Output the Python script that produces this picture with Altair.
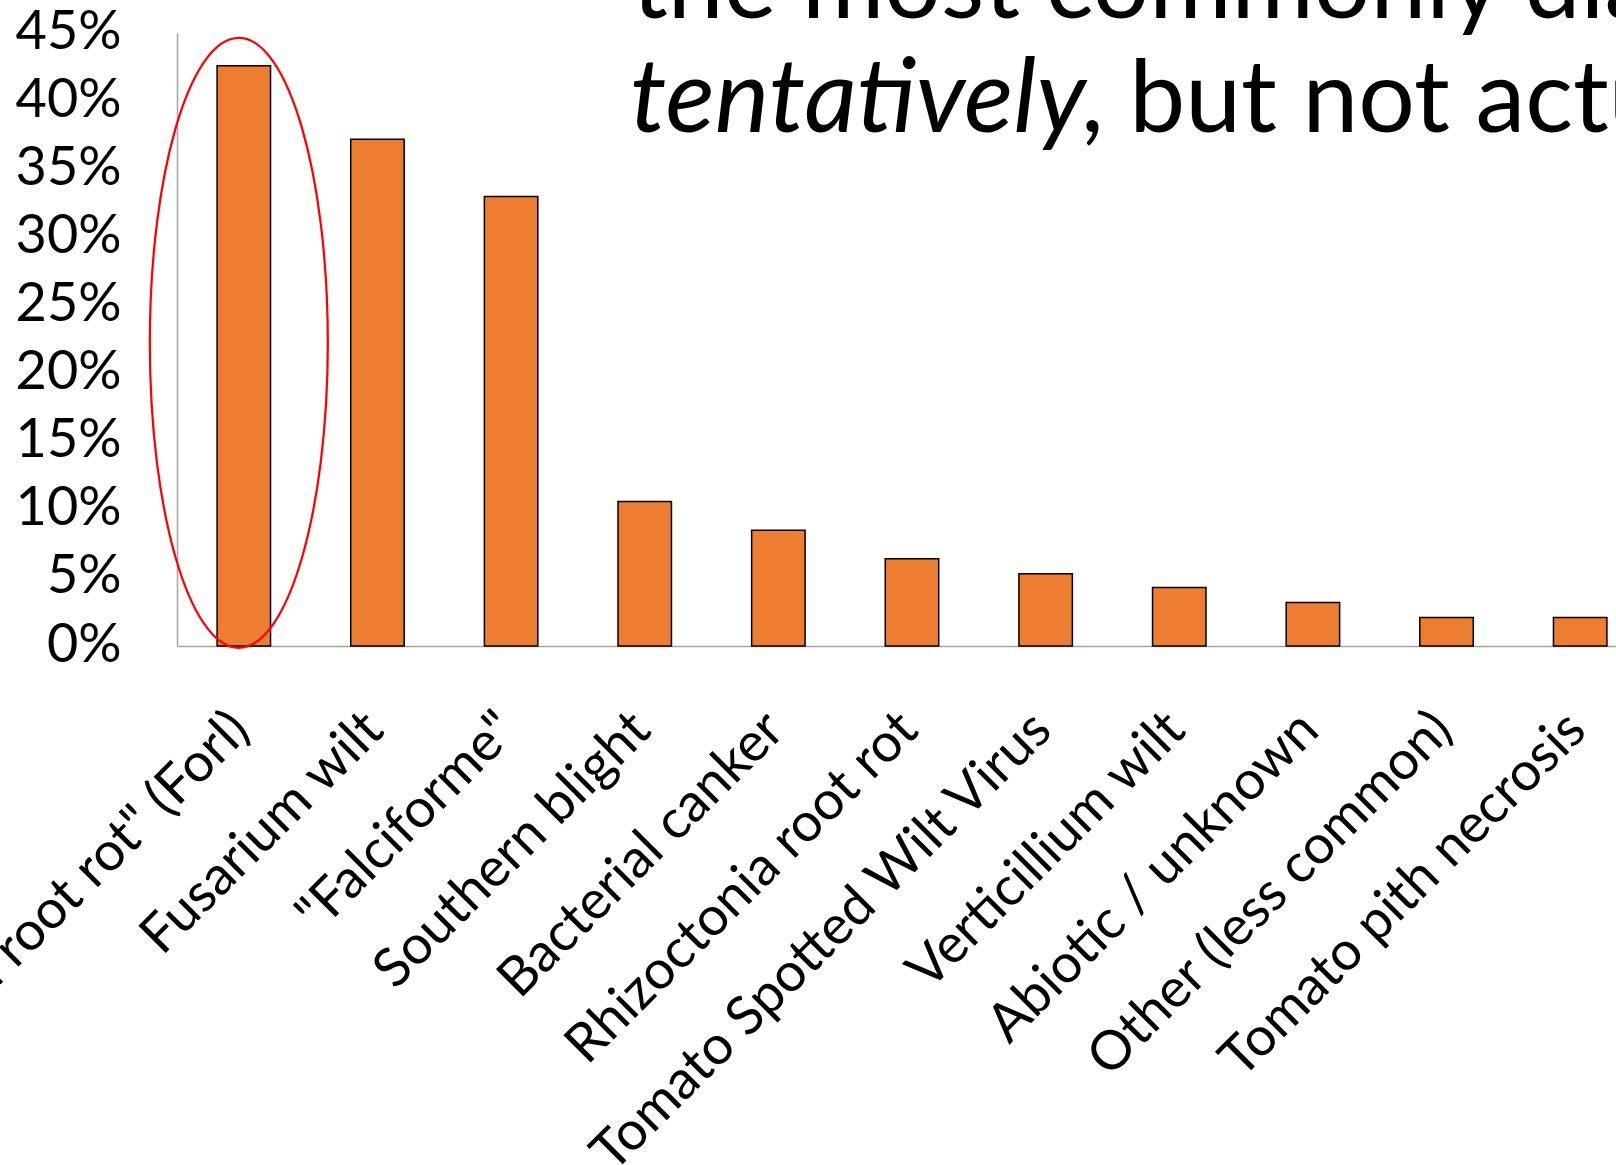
import altair as alt
import pandas as pd

# Share of cases per diagnosis (percent)
categories = [
    '"Fusarium crown and root rot" (Forl)',
    "Fusarium wilt",
    '"Falciforme"',
    "Southern blight",
    "Bacterial canker",
    "Rhizoctonia root rot",
    "Tomato Spotted Wilt Virus",
    "Verticillium wilt",
    "Abiotic / unknown",
    "Other (less common)",
    "Tomato pith necrosis",
]
shares = [42.6, 37.2, 33.0, 10.6, 8.5, 6.4, 5.3, 4.3, 3.2, 2.1, 2.1]
y_ticks = [0, 5, 10, 15, 20, 25, 30, 35, 40, 45]

title_line1 = "the most commonly diagnosed"
title_em = "tentatively"
title_rest = ", but not actually"

df = pd.DataFrame({"category": categories, "share": shares})

FONT = "Lato"
ORANGE = "#ED7D31"
AXIS_GREY = "#A6A6A6"

x_enc = alt.X(
    "category:N",
    sort=categories,
    title=None,
    scale=alt.Scale(range=[0, 1470], paddingInner=0.6, paddingOuter=0.3),
    axis=alt.Axis(
        labelAngle=-45,
        labelAlign="right",
        labelBaseline="top",
        labelPadding=56,
        labelOffset=-22,
        labelLimit=0,
        labelOverlap=False,
        labelFlush=False,
        labelFont=FONT,
        labelFontSize=54,
        labelColor="black",
        ticks=False,
        grid=False,
        domainColor=AXIS_GREY,
        domainWidth=1.5,
    ),
)

y_scale = alt.Scale(domain=[0, 45], nice=False, zero=True)
y_axis = alt.Axis(
    values=y_ticks,
    labelExpr="datum.value + '%'",
    labelPadding=56,
    labelFont=FONT,
    labelFontSize=54,
    labelColor="black",
    labelOffset=-1,
    ticks=False,
    grid=False,
    domainColor=AXIS_GREY,
    domainWidth=1.5,
)

bars = alt.Chart(df).mark_bar(
    fill=ORANGE, stroke="black", strokeWidth=1.5
).encode(
    x=x_enc,
    y=alt.Y("share:Q", scale=y_scale, axis=y_axis, title=None),
)

# Red ellipse highlighting the leading diagnosis (unit path, scaled by size)
k = 0.5523
a = 0.2918
ellipse_path = (
    f"M 0,-1 C {k*a:.4f},-1 {a},{-k} {a},0 "
    f"C {a},{k} {k*a:.4f},1 0,1 "
    f"C {-k*a:.4f},1 {-a},{k} {-a},0 "
    f"C {-a},{-k} {-k*a:.4f},-1 0,-1 Z"
)
ellipse = alt.Chart(df).transform_filter(
    alt.datum.category == categories[0]
).transform_calculate(
    mid="datum.share / 2"
).mark_point(
    shape=ellipse_path,
    size=610 * 610,
    filled=False,
    stroke="#FF0000",
    strokeWidth=2.25,
    opacity=1,
    xOffset=-5,
    yOffset=-13,
).encode(
    x=alt.X("category:N", sort=categories),
    y=alt.Y("mid:Q", scale=y_scale),
)

title_df = pd.DataFrame({"l1": [title_line1], "em": [title_em], "rest": [title_rest]})
title_style = dict(font=FONT, fontWeight=400, color="black",
                   align="left", baseline="alphabetic")

t1 = alt.Chart(title_df).mark_text(fontSize=100, **title_style).encode(
    text="l1:N", x=alt.value(455), y=alt.value(-15)
)
t2 = alt.Chart(title_df).mark_text(fontSize=103, fontStyle="italic", **title_style).encode(
    text="em:N", x=alt.value(453), y=alt.value(99)
)
t3 = alt.Chart(title_df).mark_text(fontSize=100, **title_style).encode(
    text="rest:N", x=alt.value(904), y=alt.value(99)
)

chart = alt.layer(bars, ellipse, t1, t2, t3).properties(
    width=1439,
    height=613,
    padding={"left": 177, "top": 33, "right": 0, "bottom": 519},
    autosize=alt.AutoSizeParams(type="none"),
    background="white",
).configure_view(stroke=None)

chart.save("out.html", embed_options={"renderer": "svg", "actions": False})
